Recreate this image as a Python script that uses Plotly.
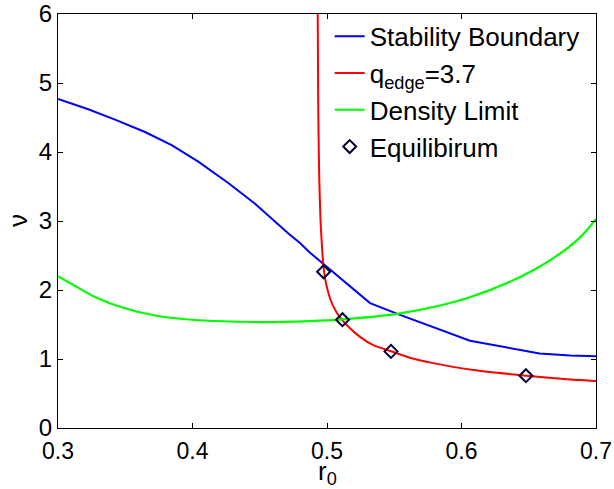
import plotly.graph_objects as go

# Stability boundary
stab_r = [0.3, 0.3225, 0.3424, 0.3647, 0.3845, 0.4043, 0.4266, 0.4465, 0.4713, 0.4799, 0.4874,
          0.4961, 0.532, 0.5543, 0.6063, 0.658, 0.6807, 0.7]
stab_nu = [4.77, 4.62, 4.47, 4.29, 4.10, 3.86, 3.55, 3.25, 2.82, 2.68, 2.54,
           2.40, 1.81, 1.64, 1.265, 1.08, 1.05, 1.04]

# q_edge = 3.7 curve
q_r = [0.4931, 0.4935, 0.4942, 0.4952, 0.4962, 0.4970, 0.4978, 0.4998, 0.5027, 0.5067,
       0.5114, 0.5171, 0.5245, 0.5344, 0.5476, 0.5630, 0.579, 0.6088, 0.648, 0.6782, 0.7]
q_nu = [6.0, 4.6, 3.65, 3.0, 2.65, 2.42, 2.27, 2.05, 1.855, 1.69,
        1.565, 1.445, 1.32, 1.20, 1.112, 1.01, 0.94, 0.84, 0.758, 0.705, 0.68]

# Density limit
dens_r = [0.3, 0.3126, 0.3275, 0.3473, 0.3721, 0.4019, 0.4465, 0.4874, 0.5117, 0.5543,
          0.6039, 0.6537, 0.6858, 0.7]
dens_nu = [2.20, 2.06, 1.90, 1.75, 1.63, 1.565, 1.536, 1.55, 1.575, 1.66,
           1.88, 2.29, 2.72, 3.03]

# Equilibrium points
eq_r = [0.4975, 0.5115, 0.5476, 0.6479]
eq_nu = [2.265, 1.57, 1.11, 0.758]

x_ticks = [0.3, 0.4, 0.5, 0.6, 0.7]
x_tick_labels = ["0.3", "0.4", "0.5", "0.6", "0.7"]
y_ticks = [0, 1, 2, 3, 4, 5, 6]

font = "Liberation Sans, Arial, Helvetica, sans-serif"

fig = go.Figure()
fig.add_trace(go.Scatter(x=stab_r, y=stab_nu, mode="lines", name="Stability Boundary",
                         line=dict(color="#0000ff", width=2)))
fig.add_trace(go.Scatter(x=q_r, y=q_nu, mode="lines", name="q<sub>edge</sub>=3.7",
                         line=dict(color="#ff0000", width=2, shape="spline", smoothing=0.5)))
fig.add_trace(go.Scatter(x=dens_r, y=dens_nu, mode="lines", name="Density Limit",
                         line=dict(color="#00ff00", width=2.2, shape="spline")))
fig.add_trace(go.Scatter(x=eq_r, y=eq_nu, mode="markers", name="Equilibirum",
                         marker=dict(symbol="diamond-open", size=10, color="#000033",
                                     line=dict(width=2, color="#000033"))))

axis_common = dict(showline=True, linecolor="black", linewidth=1, mirror="ticks",
                   ticks="inside", ticklen=5, tickcolor="black", showgrid=False,
                   zeroline=False, automargin=False)

fig.update_layout(
    width=614, height=489,
    margin=dict(l=58, r=18, t=14, b=61),
    plot_bgcolor="white", paper_bgcolor="white",
    font=dict(family=font, color="black"),
    showlegend=True,
    legend=dict(x=0.505, y=1.003, xanchor="left", yanchor="top",
                bgcolor="rgba(255,255,255,0)", borderwidth=0,
                font=dict(size=26, color="black", family=font),
                itemwidth=30),
    xaxis=dict(range=[0.3, 0.7], tickvals=x_ticks, ticktext=x_tick_labels,
               ticklabelstandoff=2,
               tickfont=dict(size=23, color="black", family=font), **axis_common),
    yaxis=dict(range=[0, 6], tickvals=y_ticks,
               tickfont=dict(size=24, color="black", family=font), **axis_common),
    annotations=[
        dict(text="r<sub>0</sub>", xref="paper", yref="paper", x=0.5, y=-0.107,
             xanchor="center", yanchor="middle", showarrow=False,
             font=dict(size=26, family=font, color="black")),
        dict(text="ν", xref="paper", yref="paper", x=-0.0743, y=0.5,
             xanchor="center", yanchor="middle", showarrow=False, textangle=-90,
             font=dict(size=26, family=font, color="black")),
    ],
)

fig.write_html("out.html", config={"displayModeBar": False},
               post_script="document.body.style.margin='0';")
